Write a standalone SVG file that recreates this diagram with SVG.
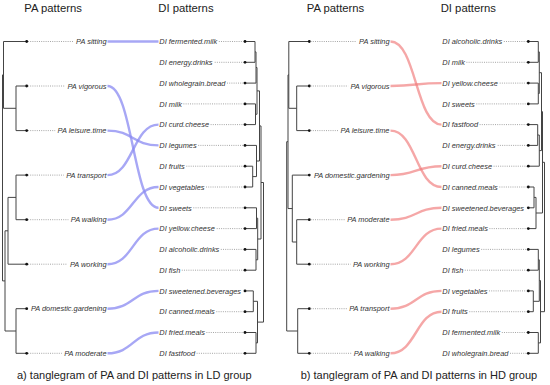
<svg xmlns="http://www.w3.org/2000/svg" width="550" height="385" viewBox="0 0 550 385">
<style>
.lbl{font-family:"Liberation Sans",Arial,sans-serif;font-style:italic;font-size:7.4px;fill:#333}
.pa{text-anchor:end}
.ttl{font-family:"Liberation Sans",Arial,sans-serif;font-size:11.3px;fill:#222}
.cap{font-family:"Liberation Sans",Arial,sans-serif;font-size:11px;fill:#222}
.dot{fill:#111}
.dt{stroke:#808080;stroke-width:0.7;stroke-dasharray:1 1.2;fill:none}
.tree{fill:none;stroke:#444;stroke-width:1}
.cb{fill:none;stroke:#8a8af2;stroke-opacity:0.75;stroke-width:2.4}
.cr{fill:none;stroke:#f07878;stroke-opacity:0.65;stroke-width:2.4}
</style>
<rect width="550" height="385" fill="#fff"/>
<g id="titles">
<text class="ttl" x="24.3" y="12">PA patterns</text>
<text class="ttl" x="158.3" y="12">DI patterns</text>
<text class="ttl" x="306.7" y="12">PA patterns</text>
<text class="ttl" x="440.7" y="12">DI patterns</text>
<text class="cap" x="17" y="379">a) tanglegram of PA and DI patterns in LD group</text>
<text class="cap" x="300.7" y="379">b) tanglegram of PA and DI patterns in HD group</text>
</g>
<g id="dendrograms">
<path class="tree" d="M26.7 86H16V130.6H26.7 M26.7 41.5H3.5V108.3H16 M26.7 175.1H16V219.7H26.7 M16 197.4H8V264.2H26.7 M26.7 308.7H16V353.3H26.7 M8 230.8H5V331H16 M3.5 74.9H2.5V280.9H5"/>
<path class="tree" d="M245 41.5H255V62.3H245 M255 51.9H256V83.1H245 M245 103.9H255.5V124.6H245 M256 67.5H257V114.25H255.5 M245 166.2H252.7V187H245 M245 145.4H256.5V176.6H252.7 M257 90.9H259.5V161H256.5 M245 207.8H256.5V228.6H245 M245 249.4H256V270.2H245 M256.5 218.2H257.7V259.8H256 M259.5 125.95H261V239H257.7 M245 290.9H253.3V311.7H245 M245 332.5H256V353.3H245 M253.3 301.3H257.5V342.9H256 M261 182.5H263.5V322.1H257.5"/>
<path class="tree" d="M309.3 86H296.7V130.6H309.3 M309.3 41.5H288.8V108.3H296.7 M309.3 219.7H296.7V264.2H309.3 M309.3 175.1H292.3V242H296.7 M288.8 74.9H288V208.55H292.3 M309.3 308.7H297.7V353.3H309.3 M288 141.7H286.7V331H297.7"/>
<path class="tree" d="M528.3 41.5H538.3V62.3H528.3 M528.3 83.1H538.3V103.9H528.3 M538.3 51.9H539.3V93.5H538.3 M528.3 124.6H537.7V145.4H528.3 M537.7 135H539.3V166.2H528.3 M539.3 72.7H541.5V150.6H539.3 M528.3 187H534V207.8H528.3 M534 197.4H536V228.6H528.3 M541.5 111.65H542.5V213H536 M528.3 249.4H538.3V270.2H528.3 M528.3 290.9H533.3V311.7H528.3 M538.3 259.8H539.3V301.3H533.3 M528.3 332.5H538.3V353.3H528.3 M539.3 280.55H540.5V342.9H538.3 M542.5 162.3H544.5V311.7H540.5"/>
</g>
<g id="connectors">
<path class="cb" d="M107.5 41.5C133 41.5 133 41.5 158.5 41.5"/>
<path class="cb" d="M107.5 86C133 86 133 207.8 158.5 207.8"/>
<path class="cb" d="M107.5 130.6C133 130.6 133 145.4 158.5 145.4"/>
<path class="cb" d="M107.5 175.1C133 175.1 133 124.6 158.5 124.6"/>
<path class="cb" d="M107.5 219.7C133 219.7 133 187 158.5 187"/>
<path class="cb" d="M107.5 264.2C133 264.2 133 228.6 158.5 228.6"/>
<path class="cb" d="M107.5 308.7C133 308.7 133 290.9 158.5 290.9"/>
<path class="cb" d="M107.5 353.3C133 353.3 133 332.5 158.5 332.5"/>
<path class="cr" d="M390.5 41.5C416 41.5 416 124.6 441.5 124.6"/>
<path class="cr" d="M390.5 86C416 86 416 83.1 441.5 83.1"/>
<path class="cr" d="M390.5 130.6C416 130.6 416 187 441.5 187"/>
<path class="cr" d="M390.5 175.1C416 175.1 416 166.2 441.5 166.2"/>
<path class="cr" d="M390.5 219.7C416 219.7 416 207.8 441.5 207.8"/>
<path class="cr" d="M390.5 264.2C416 264.2 416 228.6 441.5 228.6"/>
<path class="cr" d="M390.5 308.7C416 308.7 416 290.9 441.5 290.9"/>
<path class="cr" d="M390.5 353.3C416 353.3 416 311.7 441.5 311.7"/>
</g>
<g id="ld-pa-sitting"><circle class="dot" cx="26.7" cy="41.5" r="1.4"/><path class="dt" d="M28 41.5H73.7"/><text class="lbl pa" x="106.5" y="44.2">PA sitting</text></g>
<g id="ld-pa-vigorous"><circle class="dot" cx="26.7" cy="86" r="1.4"/><path class="dt" d="M28 86H65.1"/><text class="lbl pa" x="106.5" y="88.7">PA vigorous</text></g>
<g id="ld-pa-leisure"><circle class="dot" cx="26.7" cy="130.6" r="1.4"/><path class="dt" d="M28 130.6H55.2"/><text class="lbl pa" x="106.5" y="133.3">PA leisure.time</text></g>
<g id="ld-pa-transport"><circle class="dot" cx="26.7" cy="175.1" r="1.4"/><path class="dt" d="M28 175.1H63.9"/><text class="lbl pa" x="106.5" y="177.8">PA transport</text></g>
<g id="ld-pa-walking"><circle class="dot" cx="26.7" cy="219.7" r="1.4"/><path class="dt" d="M28 219.7H68.4"/><text class="lbl pa" x="106.5" y="222.4">PA walking</text></g>
<g id="ld-pa-working"><circle class="dot" cx="26.7" cy="264.2" r="1.4"/><path class="dt" d="M28 264.2H67.6"/><text class="lbl pa" x="106.5" y="266.9">PA working</text></g>
<g id="ld-pa-domestic"><circle class="dot" cx="26.7" cy="308.7" r="1.4"/><text class="lbl pa" x="106.5" y="311.4">PA domestic.gardening</text></g>
<g id="ld-pa-moderate"><circle class="dot" cx="26.7" cy="353.3" r="1.4"/><path class="dt" d="M28 353.3H61.8"/><text class="lbl pa" x="106.5" y="356">PA moderate</text></g>
<g id="ld-di-fermented"><text class="lbl" x="159.3" y="44.2">DI fermented.milk</text><path class="dt" d="M218.8 41.5H243.6"/><circle class="dot" cx="245" cy="41.5" r="1.4"/></g>
<g id="ld-di-energy"><text class="lbl" x="159.3" y="65">DI energy.drinks</text><path class="dt" d="M214.7 62.3H243.6"/><circle class="dot" cx="245" cy="62.3" r="1.4"/></g>
<g id="ld-di-wholegrain"><text class="lbl" x="159.3" y="85.8">DI wholegrain.bread</text><path class="dt" d="M227 83.1H243.6"/><circle class="dot" cx="245" cy="83.1" r="1.4"/></g>
<g id="ld-di-milk"><text class="lbl" x="159.3" y="106.6">DI milk</text><path class="dt" d="M183.4 103.9H243.6"/><circle class="dot" cx="245" cy="103.9" r="1.4"/></g>
<g id="ld-di-curd"><text class="lbl" x="159.3" y="127.3">DI curd.cheese</text><path class="dt" d="M210.6 124.6H243.6"/><circle class="dot" cx="245" cy="124.6" r="1.4"/></g>
<g id="ld-di-legumes"><text class="lbl" x="159.3" y="148.1">DI legumes</text><path class="dt" d="M198.2 145.4H243.6"/><circle class="dot" cx="245" cy="145.4" r="1.4"/></g>
<g id="ld-di-fruits"><text class="lbl" x="159.3" y="168.9">DI fruits</text><path class="dt" d="M186.3 166.2H243.6"/><circle class="dot" cx="245" cy="166.2" r="1.4"/></g>
<g id="ld-di-vegetables"><text class="lbl" x="159.3" y="189.7">DI vegetables</text><path class="dt" d="M206 187H243.6"/><circle class="dot" cx="245" cy="187" r="1.4"/></g>
<g id="ld-di-sweets"><text class="lbl" x="159.3" y="210.5">DI sweets</text><path class="dt" d="M193.3 207.8H243.6"/><circle class="dot" cx="245" cy="207.8" r="1.4"/></g>
<g id="ld-di-yellow"><text class="lbl" x="159.3" y="231.3">DI yellow.cheese</text><path class="dt" d="M216.7 228.6H243.6"/><circle class="dot" cx="245" cy="228.6" r="1.4"/></g>
<g id="ld-di-alcoholic"><text class="lbl" x="159.3" y="252.1">DI alcoholic.drinks</text><path class="dt" d="M220.8 249.4H243.6"/><circle class="dot" cx="245" cy="249.4" r="1.4"/></g>
<g id="ld-di-fish"><text class="lbl" x="159.3" y="272.9">DI fish</text><path class="dt" d="M181.8 270.2H243.6"/><circle class="dot" cx="245" cy="270.2" r="1.4"/></g>
<g id="ld-di-sweetened"><text class="lbl" x="159.3" y="293.6">DI sweetened.beverages</text><circle class="dot" cx="245" cy="290.9" r="1.4"/></g>
<g id="ld-di-canned"><text class="lbl" x="159.3" y="314.4">DI canned.meals</text><path class="dt" d="M216.3 311.7H243.6"/><circle class="dot" cx="245" cy="311.7" r="1.4"/></g>
<g id="ld-di-fried"><text class="lbl" x="159.3" y="335.2">DI fried.meals</text><path class="dt" d="M206.4 332.5H243.6"/><circle class="dot" cx="245" cy="332.5" r="1.4"/></g>
<g id="ld-di-fastfood"><text class="lbl" x="159.3" y="356">DI fastfood</text><path class="dt" d="M196.6 353.3H243.6"/><circle class="dot" cx="245" cy="353.3" r="1.4"/></g>
<g id="hd-pa-sitting"><circle class="dot" cx="309.3" cy="41.5" r="1.4"/><path class="dt" d="M310.6 41.5H356.7"/><text class="lbl pa" x="389.5" y="44.2">PA sitting</text></g>
<g id="hd-pa-vigorous"><circle class="dot" cx="309.3" cy="86" r="1.4"/><path class="dt" d="M310.6 86H348.1"/><text class="lbl pa" x="389.5" y="88.7">PA vigorous</text></g>
<g id="hd-pa-leisure"><circle class="dot" cx="309.3" cy="130.6" r="1.4"/><path class="dt" d="M310.6 130.6H338.2"/><text class="lbl pa" x="389.5" y="133.3">PA leisure.time</text></g>
<g id="hd-pa-domestic"><circle class="dot" cx="309.3" cy="175.1" r="1.4"/><text class="lbl pa" x="389.5" y="177.8">PA domestic.gardening</text></g>
<g id="hd-pa-moderate"><circle class="dot" cx="309.3" cy="219.7" r="1.4"/><path class="dt" d="M310.6 219.7H344.8"/><text class="lbl pa" x="389.5" y="222.4">PA moderate</text></g>
<g id="hd-pa-working"><circle class="dot" cx="309.3" cy="264.2" r="1.4"/><path class="dt" d="M310.6 264.2H350.6"/><text class="lbl pa" x="389.5" y="266.9">PA working</text></g>
<g id="hd-pa-transport"><circle class="dot" cx="309.3" cy="308.7" r="1.4"/><path class="dt" d="M310.6 308.7H346.9"/><text class="lbl pa" x="389.5" y="311.4">PA transport</text></g>
<g id="hd-pa-walking"><circle class="dot" cx="309.3" cy="353.3" r="1.4"/><path class="dt" d="M310.6 353.3H351.4"/><text class="lbl pa" x="389.5" y="356">PA walking</text></g>
<g id="hd-di-alcoholic"><text class="lbl" x="442.3" y="44.2">DI alcoholic.drinks</text><path class="dt" d="M503.8 41.5H526.9"/><circle class="dot" cx="528.3" cy="41.5" r="1.4"/></g>
<g id="hd-di-milk"><text class="lbl" x="442.3" y="65">DI milk</text><path class="dt" d="M466.4 62.3H526.9"/><circle class="dot" cx="528.3" cy="62.3" r="1.4"/></g>
<g id="hd-di-yellow"><text class="lbl" x="442.3" y="85.8">DI yellow.cheese</text><path class="dt" d="M499.7 83.1H526.9"/><circle class="dot" cx="528.3" cy="83.1" r="1.4"/></g>
<g id="hd-di-sweets"><text class="lbl" x="442.3" y="106.6">DI sweets</text><path class="dt" d="M476.3 103.9H526.9"/><circle class="dot" cx="528.3" cy="103.9" r="1.4"/></g>
<g id="hd-di-fastfood"><text class="lbl" x="442.3" y="127.3">DI fastfood</text><path class="dt" d="M479.6 124.6H526.9"/><circle class="dot" cx="528.3" cy="124.6" r="1.4"/></g>
<g id="hd-di-energy"><text class="lbl" x="442.3" y="148.1">DI energy.drinks</text><path class="dt" d="M497.7 145.4H526.9"/><circle class="dot" cx="528.3" cy="145.4" r="1.4"/></g>
<g id="hd-di-curd"><text class="lbl" x="442.3" y="168.9">DI curd.cheese</text><path class="dt" d="M493.6 166.2H526.9"/><circle class="dot" cx="528.3" cy="166.2" r="1.4"/></g>
<g id="hd-di-canned"><text class="lbl" x="442.3" y="189.7">DI canned.meals</text><path class="dt" d="M499.3 187H526.9"/><circle class="dot" cx="528.3" cy="187" r="1.4"/></g>
<g id="hd-di-sweetened"><text class="lbl" x="442.3" y="210.5">DI sweetened.beverages</text><circle class="dot" cx="528.3" cy="207.8" r="1.4"/></g>
<g id="hd-di-fried"><text class="lbl" x="442.3" y="231.3">DI fried.meals</text><path class="dt" d="M489.4 228.6H526.9"/><circle class="dot" cx="528.3" cy="228.6" r="1.4"/></g>
<g id="hd-di-legumes"><text class="lbl" x="442.3" y="252.1">DI legumes</text><path class="dt" d="M481.2 249.4H526.9"/><circle class="dot" cx="528.3" cy="249.4" r="1.4"/></g>
<g id="hd-di-fish"><text class="lbl" x="442.3" y="272.9">DI fish</text><path class="dt" d="M464.8 270.2H526.9"/><circle class="dot" cx="528.3" cy="270.2" r="1.4"/></g>
<g id="hd-di-vegetables"><text class="lbl" x="442.3" y="293.6">DI vegetables</text><path class="dt" d="M489 290.9H526.9"/><circle class="dot" cx="528.3" cy="290.9" r="1.4"/></g>
<g id="hd-di-fruits"><text class="lbl" x="442.3" y="314.4">DI fruits</text><path class="dt" d="M469.3 311.7H526.9"/><circle class="dot" cx="528.3" cy="311.7" r="1.4"/></g>
<g id="hd-di-fermented"><text class="lbl" x="442.3" y="335.2">DI fermented.milk</text><path class="dt" d="M501.8 332.5H526.9"/><circle class="dot" cx="528.3" cy="332.5" r="1.4"/></g>
<g id="hd-di-wholegrain"><text class="lbl" x="442.3" y="356">DI wholegrain.bread</text><path class="dt" d="M510 353.3H526.9"/><circle class="dot" cx="528.3" cy="353.3" r="1.4"/></g>
</svg>
